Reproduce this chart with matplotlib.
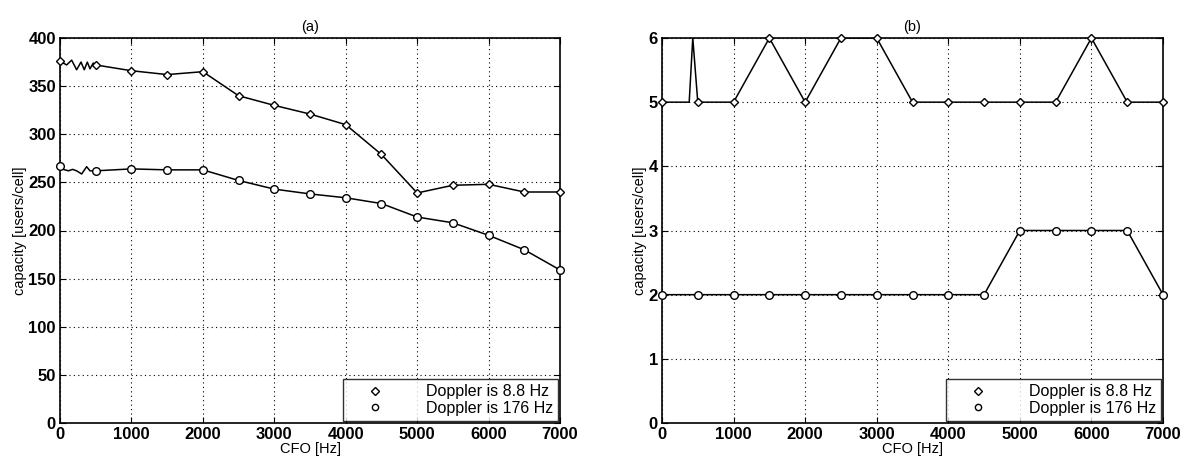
import numpy as np
import matplotlib
matplotlib.use('Agg')
import matplotlib.pyplot as plt
from matplotlib.lines import Line2D

plt.rcParams['font.family'] = ['Liberation Sans', 'DejaVu Sans']

cfo = [0, 500, 1000, 1500, 2000, 2500, 3000, 3500, 4000, 4500, 5000, 5500, 6000, 6500, 7000]

# (a) capacity, users/cell
cap_a_88 = [376, 372, 366, 362, 365, 340, 330, 321, 310, 279, 239, 247, 248, 240, 240]
cap_a_176 = [267, 262, 264, 263, 263, 252, 243, 238, 234, 228, 214, 208, 195, 180, 159]

# little wiggles drawn between 0 and 500 Hz in panel (a)
wig_x_88 = [0, 93, 163, 233, 294, 340, 382, 420, 466, 500]
wig_y_88 = [376, 372, 377, 367, 375, 367, 375, 368, 374, 372]
wig_x_176 = [0, 47, 117, 177, 233, 303, 373, 420, 500]
wig_y_176 = [267, 263.5, 262, 263.5, 262, 258.7, 266.3, 262, 262]

# (b)
cap_b_88 = [5, 5, 5, 6, 5, 6, 6, 5, 5, 5, 5, 5, 6, 5, 5]
cap_b_176 = [2, 2, 2, 2, 2, 2, 2, 2, 2, 2, 3, 3, 3, 3, 2]
spike_x_88 = [0, 380, 430, 500]
spike_y_88 = [5, 5, 6, 5]

labels = ['Doppler is 8.8 Hz', 'Doppler is 176 Hz']

fig = plt.figure(figsize=(11.88, 4.68), dpi=100)
ax1 = fig.add_axes([60 / 1188, 45 / 468, 500 / 1188, 385 / 468])
ax2 = fig.add_axes([662 / 1188, 45 / 468, 501 / 1188, 385 / 468])

lw = 1.1
mk_d = dict(marker='D', markerfacecolor='white', markeredgecolor='black', markeredgewidth=1.0, markersize=4.2)
mk_o = dict(marker='o', markerfacecolor='white', markeredgecolor='black', markeredgewidth=1.0, markersize=5.5)


def style(ax, ylim, yticks, title):
    ax.set_xlim(0, 7000)
    ax.set_ylim(*ylim)
    ax.set_xticks(range(0, 7001, 1000))
    ax.set_yticks(yticks)
    ax.grid(True, color='black', linestyle=(0, (1, 3)), linewidth=0.8)
    ax.tick_params(direction='in', length=4, labelsize=12, top=True, right=True, width=0.8, pad=3)
    for lbl in ax.get_xticklabels() + ax.get_yticklabels():
        lbl.set_fontweight('bold')
    for s in ax.spines.values():
        s.set_linewidth(1.2)
    ax.set_xlabel('CFO [Hz]', fontsize=10.5, labelpad=0)
    ax.set_ylabel('capacity [users/cell]', fontsize=10.5, labelpad=1)
    ax.set_title(title, fontsize=10.5, pad=5)
    handles = [Line2D([], [], linestyle='none', color='black', **dict(mk_d, markersize=3.8)),
               Line2D([], [], linestyle='none', color='black', **dict(mk_o, markersize=4.5))]
    leg = ax.legend(handles, labels, loc='lower right', fontsize=11.5, frameon=True, fancybox=False,
                    edgecolor='black', borderaxespad=0.15, handletextpad=1.5, borderpad=0.3,
                    labelspacing=0.1, handlelength=3.4)
    leg.get_frame().set_linewidth(1.0)


# panel (a)
ax1.plot(wig_x_88, wig_y_88, color='black', lw=lw)
ax1.plot(wig_x_176, wig_y_176, color='black', lw=lw)
ax1.plot(cfo[1:], cap_a_88[1:], color='black', lw=lw)
ax1.plot(cfo[1:], cap_a_176[1:], color='black', lw=lw)
ax1.plot(cfo, cap_a_88, linestyle='none', clip_on=False, zorder=5, **mk_d)
ax1.plot(cfo, cap_a_176, linestyle='none', clip_on=False, zorder=5, **mk_o)
style(ax1, (0, 400), range(0, 401, 50), '(a)')

# panel (b)
ax2.plot(spike_x_88, spike_y_88, color='black', lw=lw)
ax2.plot(cfo[1:], cap_b_88[1:], color='black', lw=lw)
ax2.plot(cfo, cap_b_176, color='black', lw=lw)
ax2.plot(cfo, cap_b_88, linestyle='none', clip_on=False, zorder=5, **mk_d)
ax2.plot(cfo, cap_b_176, linestyle='none', clip_on=False, zorder=5, **mk_o)
style(ax2, (0, 6), range(0, 7), '(b)')

fig.savefig('out.png', dpi=100)
